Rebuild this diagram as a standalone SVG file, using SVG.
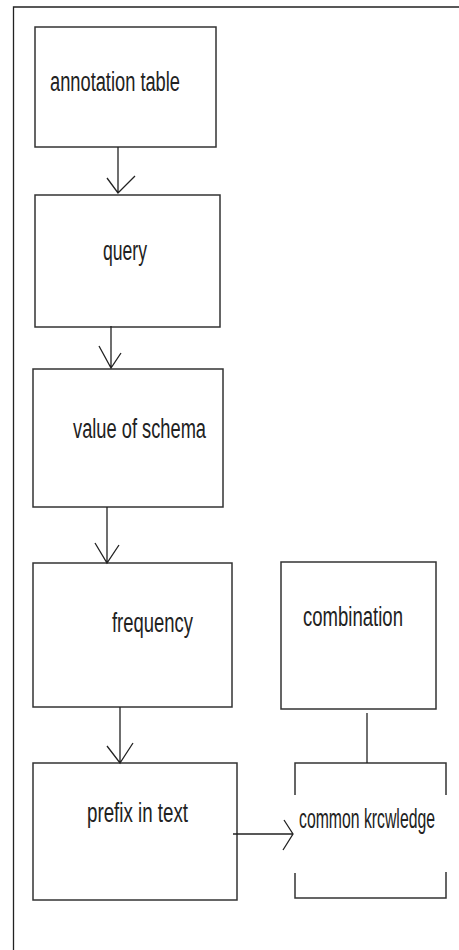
<svg xmlns="http://www.w3.org/2000/svg" width="459" height="950" viewBox="0 0 459 950">
<style>
.box{fill:#fff;stroke:#333;stroke-width:1.5}
.open{fill:none;stroke:#333;stroke-width:1.5}
.ln{fill:none;stroke:#222;stroke-width:1.3}
.t{font-family:"Liberation Sans",Arial,sans-serif;font-size:27px;fill:#222}
</style>
<rect width="459" height="950" fill="#fff"/>
<path class="ln" d="M13.5,950 V7 H459" stroke-width="1.6"/>
<g id="annotation-table">
<rect class="box" x="35" y="27" width="181" height="120"/>
<text class="t" x="50" y="91" textLength="130" lengthAdjust="spacingAndGlyphs">annotation table</text>
</g>
<g id="query">
<rect class="box" x="35" y="195" width="185" height="132"/>
<text class="t" x="103" y="260" textLength="44" lengthAdjust="spacingAndGlyphs">query</text>
</g>
<g id="value-of-schema">
<rect class="box" x="33" y="369" width="190" height="138"/>
<text class="t" x="73" y="438" textLength="133" lengthAdjust="spacingAndGlyphs">value of schema</text>
</g>
<g id="frequency">
<rect class="box" x="33" y="563" width="199" height="144"/>
<text class="t" x="112" y="632" textLength="81" lengthAdjust="spacingAndGlyphs">frequency</text>
</g>
<g id="combination">
<rect class="box" x="281" y="562" width="155" height="147"/>
<text class="t" x="303" y="626" textLength="100" lengthAdjust="spacingAndGlyphs">combination</text>
</g>
<g id="prefix-in-text">
<rect class="box" x="33" y="763" width="204" height="137"/>
<text class="t" x="87" y="822" textLength="101" lengthAdjust="spacingAndGlyphs">prefix in text</text>
</g>
<g id="common-knowledge">
<path class="open" d="M295,795 V763 H446 V795 M295,873 V898 H446 V872"/>
<text class="t" transform="translate(299,828) scale(0.585,1)" x="0" y="0">common krcwledge</text>
</g>
<g id="connectors">
<path class="ln" d="M118,147 V193 M107,178 L118,193 L135,176"/>
<path class="ln" d="M111,326 V368 M99,346 L111,368 L121,353"/>
<path class="ln" d="M107,507 V563 M95,543 L107,563 L119,545"/>
<path class="ln" d="M120,707 V763 M107,746 L120,763 L133,743"/>
<path class="ln" d="M367,713 V763"/>
<path class="ln" d="M233,834 H293 M284,820 L293,834 L283,850"/>
</g>
</svg>
